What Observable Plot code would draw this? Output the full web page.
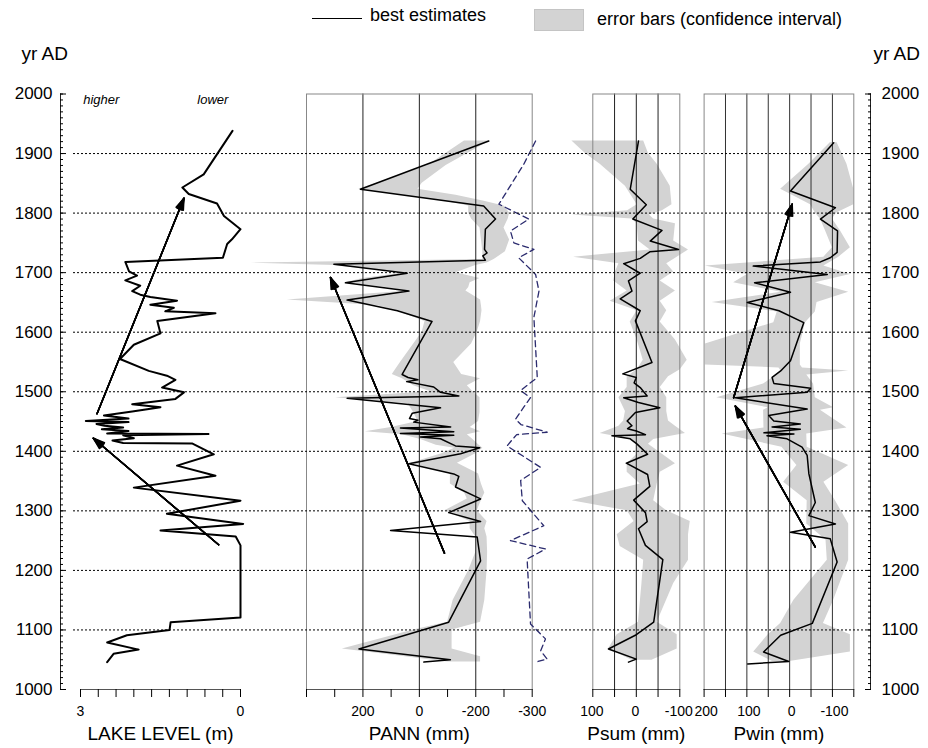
<!DOCTYPE html>
<html><head><meta charset="utf-8">
<script src="https://cdn.jsdelivr.net/npm/d3@7"></script>
<script src="https://cdn.jsdelivr.net/npm/@observablehq/plot@0.6"></script>
<style>
body{margin:0;background:#fff;font-family:"Liberation Sans",Arial,sans-serif;}
#wrap{position:relative;width:928px;height:748px;overflow:hidden;background:#fff;}
#legend{position:absolute;left:0;top:0;width:928px;height:40px;font-size:18px;color:#000;}
#legend div{position:absolute;white-space:nowrap;}
.layer{position:absolute;left:0;top:40px;width:928px;height:708px;pointer-events:none;}
.layer svg{overflow:visible;}
</style></head>
<body>
<div id="wrap">
  <div id="legend">
    <div style="left:312px;top:18px;width:50px;height:0;border-top:1.5px solid #000"></div>
    <div style="left:370px;top:5px;">best estimates</div>
    <div style="left:534px;top:9px;width:48px;height:20px;background:#d3d3d3;border:1px solid #c4c4c4"></div>
    <div style="left:597px;top:9px;">error bars (confidence interval)</div>
  </div>
</div>
<script>
// ---------------- data ----------------
const yMajor = [1000,1100,1200,1300,1400,1500,1600,1700,1800,1900,2000];
const yMinor = d3.range(1000, 2001, 10);
const gridYears = [1100,1200,1300,1400,1500,1600,1700,1800,1900];

// Lake level [year, metres]
const lakeLevel = [[1938,0.15],[1865,0.69],[1843,1.09],[1832,0.97],[1816,0.44],[1795,0.31],[1773,0.0],[1756,0.16],[1748,0.25],[1725,0.33],
 [1718,2.16],[1702,2.09],[1695,1.94],[1687,2.16],[1678,1.88],[1669,2.03],[1663,1.88],[1659,1.69],[1653,1.19],[1646,1.69],[1641,1.25],[1635,1.41],
 [1632,0.47],[1619,1.56],[1598,1.5],[1579,2.0],[1555,2.26],[1535,1.72],[1527,1.38],[1520,1.22],[1507,1.47],[1499,1.06],[1488,1.22],[1479,2.03],
 [1474,1.5],[1467,2.03],[1460,2.56],[1455,2.1],[1451,2.9],[1449,2.1],[1446,2.7],[1443,2.55],[1440,2.2],[1437,2.6],[1434,2.1],[1430,2.5],[1429,0.6],
 [1427,2.2],[1422,2.0],[1418,2.4],[1414,2.2],[1413,0.9],[1395,0.5],[1376,1.19],[1359,0.47],[1339,2.0],[1317,0.0],[1295,1.38],[1278,-0.05],[1267,1.5],
 [1257,0.09],[1242,0.0],[1121,0.0],[1113,1.31],[1100,1.33],[1091,2.13],[1079,2.5],[1067,1.91],[1060,2.38],[1046,2.5]];
const lakeTicks = [3, 8/3, 7/3, 2, 5/3, 4/3, 1, 2/3, 1/3, 0];
const lakeTickLabels = new Map([[3,"3"],[0,"0"]]);
const lakeNotes = [{label:"higher", level:2.95, yr:1991},{label:"lower", level:0.81, yr:1991}];
const lakeArrows = [[1463,2.69,1825,1.06],[1243,0.41,1422,2.76]];

// PANN [year, mm]
const pannBest = [[1921,-246],[1840,209],[1812,-228],[1790,-270],[1773,-234],[1739,-231],[1733,-240],[1728,-225],[1721,-234],[1714,303],
 [1699,43],[1683,262],[1669,37],[1654,256],[1636,78],[1618,-45],[1529,61],[1524,40],[1520,5],[1517,45],[1508,-51],[1499,-75],[1493,-140],
 [1489,256],[1473,-75],[1464,25],[1455,35],[1452,5],[1449,20],[1441,-111],[1439,67],[1433,-122],[1430,67],[1427,-122],[1424,-4],[1421,-75],
 [1409,-128],[1406,-214],[1396,-146],[1379,37],[1362,-122],[1358,-140],[1340,-128],[1320,-217],[1297,-104],[1282,-217],[1267,102],[1256,-205],
 [1216,-217],[1113,-104],[1068,214],[1050,-110],[1046,-16]];
// [year, upper (left), lower (right)]
const pannBand = [[1921,-160,-250],[1880,-30,-95],[1850,150,-10],[1840,215,5],[1830,60,-130],[1820,-90,-230],[1812,-175,-300],[1800,-175,-320],
 [1790,-185,-315],[1775,-215,-300],[1755,-220,-320],[1735,-225,-305],[1722,-225,-265],[1716,598,-240],[1712,300,-200],[1700,50,-130],[1690,200,-215],
 [1683,262,-180],[1675,120,-175],[1669,40,-165],[1654,468,-217],[1645,150,-220],[1636,80,-222],[1618,-20,-217],[1600,-10,-205],[1580,20,-185],
 [1549,67,-122],[1529,96,-150],[1522,60,-217],[1510,20,-170],[1500,-40,-190],[1490,297,-215],[1480,40,-215],[1465,20,-215],[1450,5,-210],
 [1440,100,-180],[1433,191,-217],[1428,60,-170],[1420,-5,-190],[1410,-60,-212],[1405,-125,-225],[1396,-80,-200],[1380,30,-135],[1362,-110,-210],
 [1345,-110,-220],[1330,-160,-232],[1320,-170,-222],[1300,-90,-205],[1282,-180,-240],[1270,-180,-232],[1256,-200,-240],[1230,-200,-242],
 [1200,-175,-240],[1150,-120,-232],[1113,-100,-217],[1100,20,-116],[1068,273,-116],[1055,50,-217],[1046,-100,-217]];
const pannDashed = [[1921,-412],[1882,-370],[1815,-282],[1790,-388],[1770,-323],[1750,-335],[1739,-406],[1725,-352],[1697,-412],[1669,-424],
 [1625,-406],[1574,-412],[1524,-418],[1502,-359],[1490,-394],[1474,-370],[1454,-341],[1445,-360],[1432,-453],[1428,-345],[1420,-330],[1409,-311],
 [1373,-430],[1351,-359],[1317,-365],[1275,-441],[1250,-323],[1236,-447],[1219,-382],[1110,-394],[1085,-447],[1065,-430],[1051,-453],[1046,-412]];
const pannTicks = [400,300,200,100,0,-100,-200,-300,-400];
const pannTickLabels = new Map([[200,"200"],[0,"0"],[-200,"-200"],[-400,"-300"]]);
const pannGrid = [200,0,-200];
const pannArrows = [[1229,-89,1692,315]];

// Psum [year, mm]
const psumBest = [[1921,-5],[1840,14],[1814,-23],[1790,8],[1771,-59],[1753,-32],[1739,-97],[1735,-31],[1724,-9],[1715,29],[1699,-9],[1686,18],
 [1669,10],[1656,37],[1636,-9],[1619,2],[1549,-36],[1530,31],[1524,0],[1515,5],[1507,-9],[1493,-25],[1490,29],[1482,-5],[1473,-54],[1465,2],
 [1451,21],[1443,10],[1438,20],[1434,0],[1428,-21],[1426,56],[1421,14],[1412,-2],[1395,-26],[1380,23],[1361,-26],[1341,-31],[1318,6],[1297,-21],
 [1282,-25],[1270,-5],[1242,-21],[1218,-61],[1113,-40],[1092,0],[1068,64],[1051,0],[1046,18]];
const psumBand = [[1921,148,-17],[1900,117,-28],[1882,83,-48],[1845,25,-78],[1814,-2,-82],[1804,20,-60],[1797,148,-30],[1790,10,-40],
 [1782,-2,-90],[1753,-5,-86],[1738,-32,-120],[1726,144,-94],[1715,40,-70],[1701,48,-86],[1686,52,-55],[1669,21,-90],[1652,60,-55],[1636,-2,-70],
 [1617,14,-55],[1587,-2,-90],[1553,-16,-117],[1537,-2,-101],[1525,21,-74],[1507,21,-55],[1490,40,-70],[1467,25,-70],[1451,29,-74],[1442,40,-90],
 [1430,83,-113],[1420,10,-40],[1412,-2,-28],[1395,-2,-60],[1379,21,-90],[1365,21,-55],[1345,-9,-48],[1317,148,-40],[1300,21,-70],[1282,5,-124],
 [1260,44,-120],[1240,37,-120],[1217,-17,-120],[1178,-13,-86],[1113,-5,-48],[1092,44,-94],[1068,64,-94],[1049,10,-36]];
const psumTicks = [100,50,0,-50,-100];
const psumTickLabels = new Map([[100,"100"],[0,"0"],[-100,"-100"]]);
const psumGrid = [50,0,-50];

// Pwin [year, mm]
const pwinBest = [[1918,-103],[1837,-2],[1809,-107],[1790,-72],[1770,-112],[1734,-111],[1725,-95],[1718,-72],[1711,85],[1697,-88],[1683,82],
 [1667,-2],[1650,99],[1636,25],[1616,-33],[1552,-2],[1535,21],[1524,41],[1514,37],[1506,-49],[1499,-41],[1490,127],[1471,-41],[1460,49],
 [1451,37],[1446,-25],[1441,41],[1437,-25],[1431,60],[1429,-10],[1426,53],[1421,6],[1407,-29],[1393,-41],[1362,-45],[1314,-60],[1292,-45],
 [1278,-107],[1264,-2],[1253,-95],[1214,-111],[1111,-53],[1091,21],[1063,61],[1047,2],[1043,98]];
const pwinBand = [[1918,-95,-111],[1882,-45,-134],[1840,21,-150],[1814,-49,-150],[1800,-60,-110],[1790,-72,-100],[1770,-84,-119],[1742,-100,-142],
 [1726,-80,-115],[1711,197,-80],[1697,99,-142],[1683,131,-60],[1667,20,-138],[1650,181,-64],[1634,29,-60],[1616,37,-37],[1580,197,-25],
 [1545,197,-25],[1540,25,-30],[1535,20,-138],[1528,30,-40],[1513,61,-56],[1490,170,-60],[1473,50,-103],[1469,61,-72],[1439,60,-134],
 [1429,158,-40],[1407,18,-41],[1376,-17,-138],[1348,14,-80],[1317,-41,-107],[1278,-40,-138],[1251,-85,-138],[1217,-88,-138],[1150,-10,-103],
 [1111,21,-79],[1092,50,-142],[1063,84,-142],[1047,40,0]];
const pwinTicks = [200,150,100,50,0,-50,-100,-150];
const pwinTickLabels = new Map([[200,"200"],[100,"100"],[0,"0"],[-100,"-100"]]);
const pwinGrid = [150,100,50,0,-50,-100];
const pwinArrows = [[1239,-60,1476,127],[1490,131,1815,-6]];

// ---------------- layout ----------------
const W = 928, H = 708, MT = 53.5, MB = 59;
const FONT = "Liberation Sans, Arial, sans-serif";
const STYLE = {background: "transparent", overflow: "visible", fontFamily: FONT, color: "black"};
const yearFormat = d => String(d);
const wrap = document.getElementById("wrap");
function addLayer(svg) {
  const d = document.createElement("div");
  d.className = "layer";
  d.appendChild(svg);
  wrap.appendChild(d);
}
function arrowMarks(data) {
  return [6, 14, 22, 30, 38].map(a => Plot.arrow(data, {
    y1: d => d[0], x1: d => d[1], y2: d => d[2], x2: d => d[3],
    stroke: "black", strokeWidth: 1.5, headAngle: a, headLength: 12
  }));
}
function bottomAxis(ticks, labels, title, dx = 0) {
  return [
    Plot.ruleY([1000], {stroke: "#555"}),
    Plot.axisX(ticks, {anchor: "bottom", tickSize: 8, tickFormat: () => "", label: null}),
    Plot.axisX(ticks, {anchor: "bottom", tickSize: 0, tickPadding: 17, fontSize: 14, label: null, dx,
      tickFormat: d => labels.get(d) ?? ""}),
    Plot.text([title], {frameAnchor: "bottom", dy: 44, lineAnchor: "middle", fontSize: 19})
  ];
}
function panel(left, right, domain, marks) {
  return Plot.plot({
    width: W, height: H, marginTop: MT, marginBottom: MB,
    marginLeft: left, marginRight: W - right,
    x: {domain}, y: {domain: [1000, 2000], axis: null},
    style: STYLE, marks
  });
}

// base axes (left and right year axes)
addLayer(Plot.plot({
  width: W, height: H, marginTop: MT, marginBottom: MB, marginLeft: 60, marginRight: W - 870,
  x: {domain: [0, 1], axis: null}, y: {domain: [1000, 2000]},
  style: STYLE,
  marks: [
    Plot.ruleX([0, 1], {stroke: "#222"}),
    Plot.axisY(yMajor, {anchor: "left", tickSize: 6, dx: 6, tickFormat: () => "", label: null}),
    Plot.axisY(yMinor, {anchor: "left", tickSize: 3, dx: 3, tickFormat: () => "", label: null}),
    Plot.axisY(yMajor, {anchor: "left", tickSize: 0, tickPadding: 8, fontSize: 17, label: null, tickFormat: yearFormat}),
    Plot.axisY(yMajor, {anchor: "right", tickSize: 6, dx: -6, tickFormat: () => "", label: null}),
    Plot.axisY(yMinor, {anchor: "right", tickSize: 3, dx: -3, tickFormat: () => "", label: null}),
    Plot.axisY(yMajor, {anchor: "right", tickSize: 0, tickPadding: 11, fontSize: 17, label: null, tickFormat: yearFormat}),
    Plot.text(["yr AD"], {frameAnchor: "top-left", dx: -39, dy: -40, textAnchor: "start", lineAnchor: "middle", fontSize: 19}),
    Plot.text(["yr AD"], {frameAnchor: "top-right", dx: 3, dy: -40, textAnchor: "start", lineAnchor: "middle", fontSize: 19})
  ]
}));

// lake level
addLayer(panel(80, 240, [3, 0], [
  ...bottomAxis(lakeTicks, lakeTickLabels, "LAKE LEVEL (m)"),
  Plot.text(lakeNotes, {x: "level", y: "yr", text: "label", textAnchor: "start", fontStyle: "italic", fontSize: 13}),
  Plot.line(lakeLevel, {x: d => d[1], y: d => d[0], stroke: "black", strokeWidth: 2}),
  ...arrowMarks(lakeArrows)
]));

// PANN
addLayer(panel(306, 531.7, [400, -400], [
  Plot.areaX(pannBand, {y: d => d[0], x1: d => d[1], x2: d => d[2], fill: "#d3d3d3"}),
  Plot.ruleX(pannGrid, {stroke: "#222"}),
  Plot.frame({stroke: "#888"}),
  ...bottomAxis(pannTicks, pannTickLabels, "PANN (mm)"),
  Plot.line(pannDashed, {x: d => d[1], y: d => d[0], stroke: "#2b2b6e", strokeWidth: 1.3, strokeDasharray: "6,4"}),
  Plot.line(pannBest, {x: d => d[1], y: d => d[0], stroke: "black", strokeWidth: 1.5}),
  ...arrowMarks(pannArrows)
]));

// Psum
addLayer(panel(592.3, 679.3, [100, -100], [
  Plot.areaX(psumBand, {y: d => d[0], x1: d => d[1], x2: d => d[2], fill: "#d3d3d3"}),
  Plot.ruleX(psumGrid, {stroke: "#222"}),
  Plot.frame({stroke: "#888"}),
  ...bottomAxis(psumTicks, psumTickLabels, "Psum (mm)", -1),
  Plot.line(psumBest, {x: d => d[1], y: d => d[0], stroke: "black", strokeWidth: 1.5})
]));

// Pwin
addLayer(panel(703.6, 853.3, [200, -150], [
  Plot.areaX(pwinBand, {y: d => d[0], x1: d => d[1], x2: d => d[2], fill: "#d3d3d3"}),
  Plot.ruleX(pwinGrid, {stroke: "#333"}),
  Plot.frame({stroke: "#888"}),
  ...bottomAxis(pwinTicks, pwinTickLabels, "Pwin (mm)", 2),
  Plot.line(pwinBest, {x: d => d[1], y: d => d[0], stroke: "black", strokeWidth: 1.5}),
  ...arrowMarks(pwinArrows)
]));

// dotted century lines across all panels
addLayer(Plot.plot({
  width: W, height: H, marginTop: MT, marginBottom: MB, marginLeft: 73, marginRight: W - 864,
  x: {domain: [0, 1], axis: null}, y: {domain: [1000, 2000], axis: null},
  style: STYLE,
  marks: [Plot.ruleY(gridYears, {stroke: "black", strokeWidth: 1, strokeDasharray: "2,2"})]
}));
</script>
</body></html>
